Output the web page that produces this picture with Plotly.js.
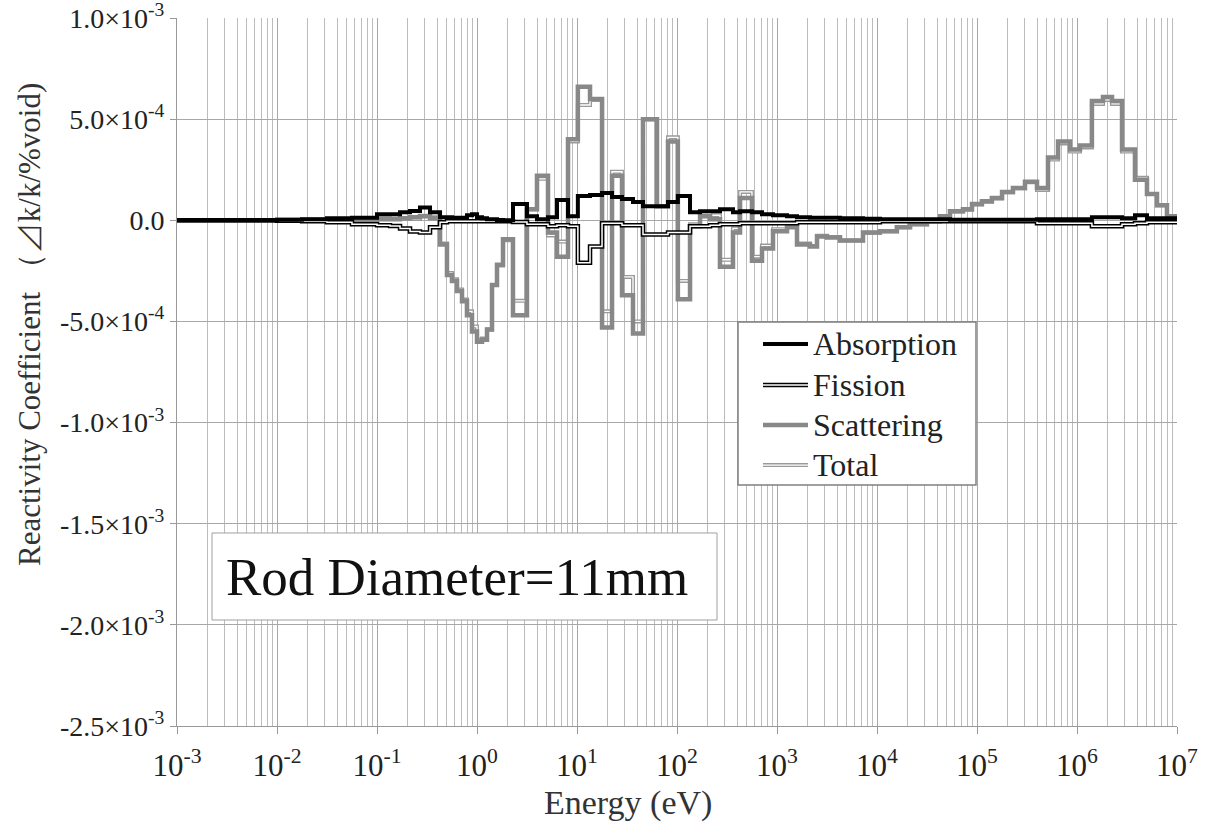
<!DOCTYPE html>
<html>
<head>
<meta charset="utf-8">
<script src="https://cdn.plot.ly/plotly-3.0.1.min.js"></script>
<style>html,body{margin:0;padding:0;background:#fff;}#chart{width:1215px;height:829px;}</style>
</head>
<body>
<div id="chart"></div>
<script>
// Energy group boundaries (eV), ascending
const energyBounds = [1e-3, 3.16e-3, 1e-2, 1.78e-2, 3.16e-2, 5.62e-2, 0.1, 0.135, 0.170, 0.214, 0.269, 0.339, 0.427, 0.501, 0.562, 0.631, 0.708, 0.794, 0.891, 1.0, 1.122, 1.259, 1.413, 1.585, 1.82, 2.29, 3.16, 3.98, 5.13, 6.31, 8.13, 10.2, 13.5, 17.8, 22.4, 28.2, 36.3, 45.7, 63.1, 81.3, 102, 135, 170, 214, 269, 363, 427, 562, 708, 912, 1259, 1585, 2138, 2512, 3162, 4266, 7244, 1.07e4, 1.58e4, 2.14e4, 3.16e4, 4.27e4, 5.37e4, 7.24e4, 8.91e4, 1.12e5, 1.41e5, 1.78e5, 2.29e5, 3.02e5, 3.98e5, 5.13e5, 6.46e5, 8.51e5, 1.07e6, 1.41e6, 1.82e6, 2.24e6, 2.82e6, 3.80e6, 5.01e6, 6.31e6, 7.94e6, 1e7];

// Reactivity coefficient per group (dk/k/%void)
const absorption = [0, 0, 0.3e-5, 0.5e-5, 1.0e-5, 1.3e-5, 3.0e-5, 3.0e-5, 4.0e-5, 4.6e-5, 6.3e-5, 4.0e-5, 1.5e-5, 1.5e-5, 1.3e-5, 1.3e-5, 1.3e-5, 2.5e-5, 3.0e-5, 1.5e-5, 1.0e-5, 0.5e-5, 0.5e-5, 0.2e-5, 0, 8e-5, 2e-5, 0.5e-5, 1.5e-5, 10e-5, 2e-5, 12e-5, 12.5e-5, 13.5e-5, 11.5e-5, 10.5e-5, 9e-5, 7e-5, 7e-5, 9e-5, 12e-5, 4e-5, 4.5e-5, 4.5e-5, 5.5e-5, 4e-5, 4.5e-5, 4e-5, 3e-5, 2.5e-5, 2e-5, 1.5e-5, 1.3e-5, 1.3e-5, 1.2e-5, 1.0e-5, 0.8e-5, 0.5e-5, 0.5e-5, 0.5e-5, 0.5e-5, 0.5e-5, 0.3e-5, 0.3e-5, 0.3e-5, 0.3e-5, 0.3e-5, 0.3e-5, 0.3e-5, 0.3e-5, 0.5e-5, 0.5e-5, 0.5e-5, 0.5e-5, 0.5e-5, 1.5e-5, 1.5e-5, 1.5e-5, 1.0e-5, 2.5e-5, 1.0e-5, 1.0e-5, 1.0e-5];

const fission = [0, 0, -0.2e-5, -0.5e-5, -1.0e-5, -2.0e-5, -2.5e-5, -2.8e-5, -4.0e-5, -5.5e-5, -6.0e-5, -3.5e-5, -1.0e-5, -0.5e-5, -0.5e-5, -0.5e-5, -0.5e-5, -0.5e-5, -0.5e-5, -0.5e-5, -0.5e-5, -0.5e-5, -0.5e-5, -0.5e-5, -0.5e-5, -0.8e-5, -2e-5, -2e-5, -3e-5, -2.5e-5, -3e-5, -21e-5, -13e-5, -1.5e-5, -1.5e-5, -2.5e-5, -2.5e-5, -7e-5, -7e-5, -6e-5, -6e-5, -3e-5, -3e-5, -2.5e-5, -2e-5, -2e-5, -1.5e-5, -1.5e-5, -1.5e-5, -1.5e-5, -1.5e-5, -1e-5, -1e-5, -1e-5, -1e-5, -1e-5, -1e-5, -0.5e-5, -0.5e-5, -0.5e-5, -0.5e-5, -0.5e-5, -0.5e-5, -0.5e-5, -0.5e-5, -0.5e-5, -0.5e-5, -0.5e-5, -0.5e-5, -0.5e-5, -1.5e-5, -1.5e-5, -1.5e-5, -1.5e-5, -1.5e-5, -3e-5, -3e-5, -3e-5, -2e-5, -1.5e-5, -1e-5, -1e-5, -1e-5];

const scattering = [0, 0, 0.2e-5, 0.3e-5, 0.5e-5, 0, 0.5e-5, 0.5e-5, 1.0e-5, 1.5e-5, 2.0e-5, 1.0e-5, -12e-5, -27e-5, -30e-5, -35e-5, -40e-5, -47e-5, -55e-5, -60e-5, -59e-5, -54e-5, -32e-5, -22e-5, -9.4e-5, -47e-5, 5.4e-5, 22e-5, -6e-5, -18e-5, 40e-5, 66e-5, 60e-5, -53e-5, 22e-5, -37e-5, -56e-5, 50e-5, 7e-5, 39e-5, -39e-5, -3e-5, 2e-5, 0.5e-5, -23e-5, -6e-5, 11e-5, -20e-5, -14e-5, -5.4e-5, -3.5e-5, -12e-5, -13e-5, -8e-5, -8.5e-5, -10e-5, -6e-5, -5.4e-5, -3.5e-5, -2e-5, -0.5e-5, 2e-5, 4.5e-5, 5.4e-5, 8e-5, 9.4e-5, 11e-5, 14e-5, 16e-5, 19e-5, 16e-5, 31e-5, 39e-5, 35e-5, 37e-5, 59e-5, 61e-5, 59e-5, 35e-5, 20e-5, 13e-5, 7.4e-5, 2e-5];

const total = [0, 0, 0.3e-5, 0.3e-5, 0.5e-5, -0.7e-5, 1.0e-5, 0.7e-5, 1.0e-5, 0.6e-5, 2.3e-5, 1.5e-5, -11.5e-5, -26e-5, -29.2e-5, -34.2e-5, -39.2e-5, -45e-5, -52.5e-5, -59e-5, -58.5e-5, -54e-5, -32e-5, -22.3e-5, -9.9e-5, -39.8e-5, 5.4e-5, 20.5e-5, -7.5e-5, -10.5e-5, 39e-5, 57e-5, 59.5e-5, -45e-5, 24e-5, -28e-5, -50e-5, 50e-5, 7e-5, 41e-5, -30e-5, -2e-5, 3.5e-5, 2.5e-5, -19.5e-5, -4e-5, 14e-5, -18e-5, -12.5e-5, -4.4e-5, -3e-5, -11.5e-5, -12.7e-5, -7.7e-5, -8.3e-5, -10e-5, -6.2e-5, -5.4e-5, -3.5e-5, -2e-5, -0.5e-5, 2e-5, 4.3e-5, 5.2e-5, 7.8e-5, 9.2e-5, 10.8e-5, 13.8e-5, 15.8e-5, 18.8e-5, 15e-5, 30e-5, 38e-5, 34e-5, 36e-5, 57.5e-5, 59.5e-5, 57.5e-5, 34e-5, 21e-5, 13e-5, 7.4e-5, 2e-5];

// Axis ticks
const xTickVals = [1e-3, 1e-2, 1e-1, 1e0, 1e1, 1e2, 1e3, 1e4, 1e5, 1e6, 1e7];
const xTickText = ["10<sup>-3</sup>", "10<sup>-2</sup>", "10<sup>-1</sup>", "10<sup>0</sup>", "10<sup>1</sup>", "10<sup>2</sup>", "10<sup>3</sup>", "10<sup>4</sup>", "10<sup>5</sup>", "10<sup>6</sup>", "10<sup>7</sup>"];
const yTickVals = [1e-3, 5e-4, 0, -5e-4, -1e-3, -1.5e-3, -2e-3, -2.5e-3];
const yTickText = ["1.0×10<sup>-3</sup>", "5.0×10<sup>-4</sup>", "0.0", "-5.0×10<sup>-4</sup>", "-1.0×10<sup>-3</sup>", "-1.5×10<sup>-3</sup>", "-2.0×10<sup>-3</sup>", "-2.5×10<sup>-3</sup>"];
const seriesNames = ["Absorption", "Fission", "Scattering", "Total"];

// minor gridline positions (2..9 per decade)
const minorVals = [];
for (let k = -3; k < 7; k++) { for (let m = 2; m <= 9; m++) { minorVals.push(m * Math.pow(10, k)); } }

function stepY(v) { return v.concat([v[v.length - 1]]); }

const FONT = 'Times New Roman, Liberation Serif, Noto Serif, DejaVu Serif, serif';
const GRAY = '#888888';
const TGRAY = '#9a9a9a';

// drawing order: Total (bottom), Scattering, Fission, Absorption (top)
const traces = [
  {x: energyBounds, y: stepY(total), name: seriesNames[3], mode: 'lines', line: {shape: 'hv', color: TGRAY, width: 4}, showlegend: false},
  {x: energyBounds, y: stepY(total), name: seriesNames[3] + ' (inner)', mode: 'lines', line: {shape: 'hv', color: '#fff', width: 1.3}, showlegend: false, hoverinfo: 'skip'},
  {x: energyBounds, y: stepY(scattering), name: seriesNames[2], mode: 'lines', line: {shape: 'hv', color: GRAY, width: 4.5}, showlegend: false},
  {x: energyBounds, y: stepY(fission), name: seriesNames[1], mode: 'lines', line: {shape: 'hv', color: '#000', width: 4.5}, showlegend: false},
  {x: energyBounds, y: stepY(fission), name: seriesNames[1] + ' (inner)', mode: 'lines', line: {shape: 'hv', color: '#fff', width: 1.5}, showlegend: false, hoverinfo: 'skip'},
  {x: energyBounds, y: stepY(absorption), name: seriesNames[0], mode: 'lines', line: {shape: 'hv', color: '#000', width: 4}, showlegend: false}
];

// legend drawn manually (double-line samples)
const legY = [0.5395, 0.4816, 0.4251, 0.3686];
const lx0 = 0.586, lx1 = 0.631;
const shapes = [
  {type: 'rect', xref: 'paper', yref: 'paper', x0: 0.035, x1: 0.54, y0: 0.1497, y1: 0.2726, line: {color: '#a0a0a0', width: 1}, fillcolor: '#fff', layer: 'above'},
  {type: 'rect', xref: 'paper', yref: 'paper', x0: 0.561, x1: 0.799, y0: 0.3404, y1: 0.5706, line: {color: '#808080', width: 1.5}, fillcolor: '#fff', layer: 'above'},
  {type: 'line', xref: 'paper', yref: 'paper', x0: lx0, x1: lx1, y0: legY[0], y1: legY[0], line: {color: '#000', width: 4}, layer: 'above'},
  {type: 'line', xref: 'paper', yref: 'paper', x0: lx0, x1: lx1, y0: legY[1], y1: legY[1], line: {color: '#000', width: 4.5}, layer: 'above'},
  {type: 'line', xref: 'paper', yref: 'paper', x0: lx0, x1: lx1, y0: legY[1], y1: legY[1], line: {color: '#fff', width: 1.5}, layer: 'above'},
  {type: 'line', xref: 'paper', yref: 'paper', x0: lx0, x1: lx1, y0: legY[2], y1: legY[2], line: {color: GRAY, width: 4.5}, layer: 'above'},
  {type: 'line', xref: 'paper', yref: 'paper', x0: lx0, x1: lx1, y0: legY[3], y1: legY[3], line: {color: TGRAY, width: 4}, layer: 'above'},
  {type: 'line', xref: 'paper', yref: 'paper', x0: lx0, x1: lx1, y0: legY[3], y1: legY[3], line: {color: '#fff', width: 1.3}, layer: 'above'}
];

const annotations = seriesNames.map((n, i) => ({
  text: n, xref: 'paper', yref: 'paper', x: 0.634, y: legY[i], xanchor: 'left', yanchor: 'middle',
  showarrow: false, font: {family: FONT, size: 32, color: '#222'}
}));
annotations.push({text: 'Rod Diameter=11mm', xref: 'paper', yref: 'paper', x: 0.28, y: 0.2105, xanchor: 'center', yanchor: 'middle', showarrow: false, font: {family: FONT, size: 53, color: '#111'}});
annotations.push({text: 'Energy (eV)', xref: 'paper', yref: 'paper', x: 0.451, y: -0.1088, xanchor: 'center', yanchor: 'middle', showarrow: false, font: {family: FONT, size: 34, color: '#333'}});
annotations.push({text: 'Reactivity Coefficient （⊿k/k/%void)', xref: 'paper', yref: 'paper', x: -0.147, y: 0.5664, xanchor: 'center', yanchor: 'middle', textangle: -90, showarrow: false, font: {family: FONT, size: 31, color: '#333'}});

const layout = {
  width: 1215, height: 829,
  margin: {l: 177, r: 38, t: 18, b: 103},
  paper_bgcolor: '#fff', plot_bgcolor: '#fff',
  showlegend: false,
  font: {family: FONT, color: '#222'},
  xaxis: {
    type: 'log', range: [-3, 7], tickmode: 'array', tickvals: xTickVals, ticktext: xTickText,
    ticks: 'outside', ticklen: 7, tickcolor: '#999', tickwidth: 1,
    showline: true, linecolor: '#999', linewidth: 1, mirror: false,
    showgrid: true, gridcolor: '#a8a8a8', gridwidth: 1,
    minor: {tickmode: 'array', tickvals: minorVals, showgrid: true, gridcolor: '#bcbcbc', gridwidth: 1, ticks: ''},
    tickfont: {family: FONT, size: 31, color: '#222'}, ticklabelstandoff: 5, ticklabeloverflow: 'allow',
    zeroline: false, fixedrange: true
  },
  yaxis: {
    range: [-2.5e-3, 1e-3], tickmode: 'array', tickvals: yTickVals, ticktext: yTickText,
    ticks: 'outside', ticklen: 6, tickcolor: '#999', tickwidth: 1,
    showline: true, linecolor: '#999', linewidth: 1,
    showgrid: true, gridcolor: '#a8a8a8', gridwidth: 1,
    tickfont: {family: FONT, size: 28, color: '#222'}, ticklabeloverflow: 'allow',
    zeroline: false, fixedrange: true
  },
  shapes: shapes,
  annotations: annotations
};

Plotly.newPlot('chart', traces, layout, {staticPlot: true, displayModeBar: false});
</script>
</body>
</html>
